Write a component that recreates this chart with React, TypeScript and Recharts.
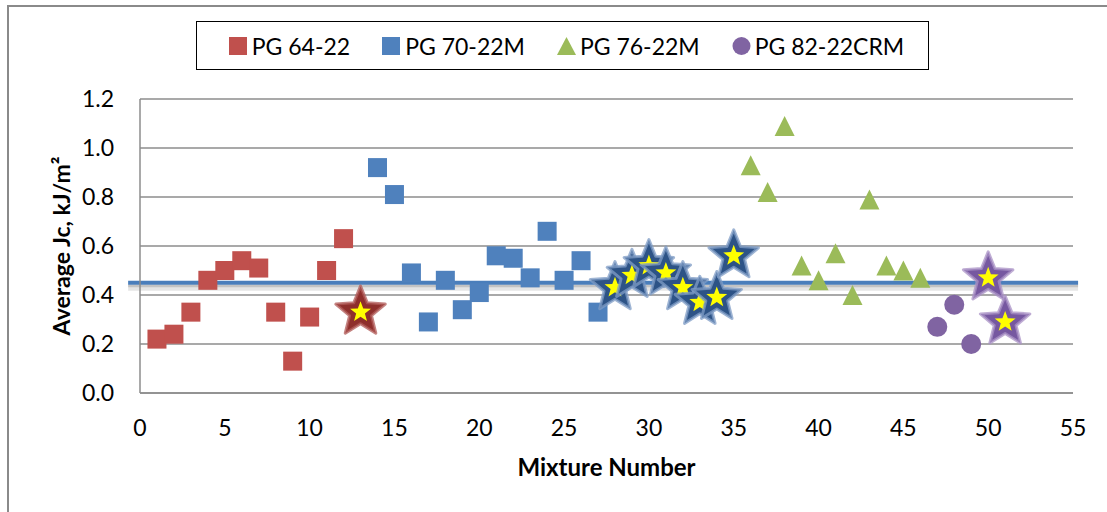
import { ScatterChart, Scatter, XAxis, YAxis, CartesianGrid, ReferenceLine, Legend } from 'recharts'

// PG 64-22 (red squares)
const mix6422 = [1, 2, 3, 4, 5, 6, 7, 8, 9, 10, 11, 12]
const jc6422 = [0.22, 0.24, 0.33, 0.46, 0.5, 0.54, 0.51, 0.33, 0.13, 0.31, 0.5, 0.63]
// PG 70-22M (blue squares)
const mix7022 = [14, 15, 16, 17, 18, 19, 20, 21, 22, 23, 24, 25, 26, 27]
const jc7022 = [0.92, 0.81, 0.49, 0.29, 0.46, 0.34, 0.41, 0.56, 0.55, 0.47, 0.66, 0.46, 0.54, 0.33]
// PG 76-22M (green triangles)
const mix7622 = [36, 37, 38, 39, 40, 41, 42, 43, 44, 45, 46]
const jc7622 = [0.93, 0.82, 1.09, 0.52, 0.46, 0.57, 0.4, 0.79, 0.52, 0.5, 0.47]
// PG 82-22CRM (purple circles)
const mix8222 = [47, 48, 49]
const jc8222 = [0.27, 0.36, 0.2]

// starred mixtures
const starMix6422 = [13]
const starJc6422 = [0.33]
const starMix7022 = [28, 29, 30, 31, 32, 33, 34, 35]
const starJc7022 = [0.43, 0.48, 0.52, 0.49, 0.43, 0.37, 0.39, 0.56]
const starMix8222 = [50, 51]
const starJc8222 = [0.47, 0.29]

const meanJc = 0.45
const xTicks = [0, 5, 10, 15, 20, 25, 30, 35, 40, 45, 50, 55]
const yTicks = [0, 0.2, 0.4, 0.6, 0.8, 1.0, 1.2]
const seriesNames = ['PG 64-22', 'PG 70-22M', 'PG 76-22M', 'PG 82-22CRM']

const zip = (xs: number[], ys: number[]) => xs.map((x, i) => ({ x, y: ys[i] }))

const RED = '#c0504d'
const BLUE = '#4f81bd'
const GREEN = '#9bbb59'
const PURPLE = '#8064a2'
const FONT = 'Lato, "Open Sans", sans-serif'

const square = (color: string) => (p: any) => (
  <rect x={p.cx - 9.5} y={p.cy - 9.5} width={19} height={19} fill={color} />
)

const triangle = (p: any) => (
  <polygon
    points={`${p.cx},${p.cy - 10} ${p.cx + 10},${p.cy + 10} ${p.cx - 10},${p.cy + 10}`}
    fill={GREEN}
  />
)

const circle = (p: any) => <circle cx={p.cx} cy={p.cy} r={10} fill={PURPLE} />

function starPts(cx: number, cy: number, R: number, r: number) {
  const pts: string[] = []
  for (let i = 0; i < 10; i++) {
    const a = ((-90 + i * 36) * Math.PI) / 180
    const rad = i % 2 === 0 ? R : r
    pts.push(`${cx + rad * Math.cos(a)},${cy + rad * Math.sin(a)}`)
  }
  return pts.join(' ')
}

const star = (fill: string, edge: string) => (p: any) => (
  <g>
    <polygon
      points={starPts(p.cx, p.cy, 26, 11.5)}
      fill={fill}
      stroke={edge}
      strokeWidth={3}
      strokeOpacity={0.75}
      strokeLinejoin="round"
    />
    <polygon points={starPts(p.cx, p.cy, 11, 4.6)} fill="#ffff00" />
  </g>
)

const meanLine = (p: any) => (
  <g>
    <line x1={p.x1} y1={p.y1 + 5} x2={p.x2} y2={p.y2 + 5} stroke="#000" strokeOpacity={0.1} strokeWidth={6} />
    <line x1={p.x1} y1={p.y1 + 3} x2={p.x2} y2={p.y2 + 3} stroke="#000" strokeOpacity={0.15} strokeWidth={3} />
    <line x1={p.x1} y1={p.y1} x2={p.x2} y2={p.y2} stroke="#4a7ebb" strokeWidth={4} />
  </g>
)

function LegendBox(props: any) {
  const items = (props.payload || []).filter((e: any) => e.type !== 'none')
  return (
    <div
      style={{
        boxSizing: 'border-box',
        width: 733,
        height: 49,
        border: '1.5px solid #000',
        background: '#fff',
        display: 'flex',
        alignItems: 'center',
        justifyContent: 'center',
        gap: 32,
        paddingLeft: 8,
        fontFamily: FONT,
        fontSize: 23,
        color: '#000',
      }}
    >
      {items.map((e: any) => (
        <div key={e.value} style={{ display: 'flex', alignItems: 'center', gap: 4 }}>
          <svg width={19} height={20}>
            {e.type === 'square' && <rect x={0} y={1} width={18} height={18} fill={e.color} />}
            {e.type === 'triangle' && <polygon points="9.5,1 19,19 0,19" fill={e.color} />}
            {e.type === 'circle' && <circle cx={9.5} cy={10} r={9} fill={e.color} />}
          </svg>
          <span>{e.value}</span>
        </div>
      ))}
    </div>
  )
}

function YTitle(props: any) {
  const vb = props.viewBox || { y: 92, height: 294 }
  const cx = 52
  const cy = vb.y + vb.height / 2
  return (
    <text
      x={cx}
      y={cy}
      transform={`rotate(-90 ${cx} ${cy})`}
      textAnchor="middle"
      dominantBaseline="central"
      fontFamily={FONT}
      fontWeight="bold"
      fontSize={23}
      fill="#000"
    >
      Average Jc, kJ/m²
    </text>
  )
}

export default function App() {
  return (
    <div
      style={{
        position: 'fixed',
        left: 7,
        top: 5,
        width: 1110,
        height: 520,
        background: '#fff',
        borderLeft: '2px solid #8a8a8a',
        borderTop: '2px solid #8a8a8a',
        fontFamily: FONT,
      }}
    >
      <ScatterChart width={1090} height={495} margin={{ top: 92, right: 26, bottom: 49, left: 0 }}>
        <CartesianGrid vertical={false} stroke="#8c8c8c" strokeWidth={1.5} />
        <XAxis
          type="number"
          dataKey="x"
          domain={[0, 55]}
          ticks={xTicks}
          height={60}
          tickLine={false}
          tickMargin={21}
          axisLine={{ stroke: '#8c8c8c', strokeWidth: 1.5 }}
          tick={{ fontSize: 23, fill: '#000', fontFamily: FONT }}
          label={{
            value: 'Mixture Number',
            position: 'bottom',
            offset: 6,
            style: { fontSize: 24, fontWeight: 'bold', fill: '#000', fontFamily: FONT },
          }}
        />
        <YAxis
          type="number"
          dataKey="y"
          domain={[0, 1.2]}
          ticks={yTicks}
          width={131}
          tickLine={false}
          tickMargin={20}
          axisLine={{ stroke: '#8c8c8c', strokeWidth: 1.5 }}
          tickFormatter={(v: number) => v.toFixed(1)}
          tick={{ fontSize: 23, fill: '#000', fontFamily: FONT }}
          label={<YTitle />}
        />
        <Legend
          verticalAlign="middle"
          align="center"
          wrapperStyle={{ position: 'absolute', left: 187, top: 14, width: 733, height: 49 }}
          content={<LegendBox />}
        />
        <Scatter name={seriesNames[0]} data={zip(mix6422, jc6422)} fill={RED} legendType="square" shape={square(RED)} isAnimationActive={false} />
        <Scatter name={seriesNames[1]} data={zip(mix7022, jc7022)} fill={BLUE} legendType="square" shape={square(BLUE)} isAnimationActive={false} />
        <Scatter name={seriesNames[2]} data={zip(mix7622, jc7622)} fill={GREEN} legendType="triangle" shape={triangle} isAnimationActive={false} />
        <Scatter name={seriesNames[3]} data={zip(mix8222, jc8222)} fill={PURPLE} legendType="circle" shape={circle} isAnimationActive={false} />
        <Scatter name="star6422" data={zip(starMix6422, starJc6422)} legendType="none" shape={star('#8e2f2c', '#b05a57')} isAnimationActive={false} />
        <Scatter name="star7022" data={zip(starMix7022, starJc7022)} legendType="none" shape={star('#2d5386', '#7f9cc6')} isAnimationActive={false} />
        <Scatter name="star8222" data={zip(starMix8222, starJc8222)} legendType="none" shape={star('#7658a0', '#a992c6')} isAnimationActive={false} />
        <ReferenceLine
          segment={[{ x: -0.7, y: meanJc }, { x: 55.3, y: meanJc }]}
          ifOverflow="visible"
          shape={meanLine}
        />
      </ScatterChart>
    </div>
  )
}
